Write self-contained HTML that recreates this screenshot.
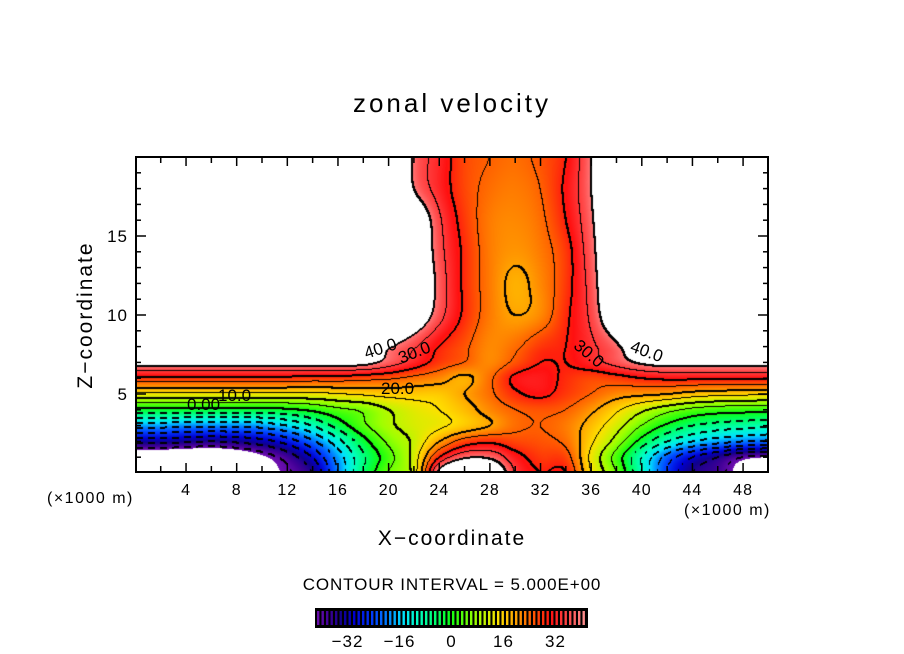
<!DOCTYPE html>
<html><head><meta charset="utf-8"><style>
body{margin:0;background:#fff;}
#root{position:relative;width:904px;height:654px;overflow:hidden;background:#fff;font-family:"Liberation Sans",sans-serif;color:#000;}
.t{position:absolute;white-space:nowrap;}
</style></head><body>
<div id="root">
<div class="t" style="left:0;width:904px;text-align:center;top:88px;font-size:26px;letter-spacing:3px;">zonal velocity</div>
<canvas id="cv" width="632" height="316" style="position:absolute;left:136px;top:157px;"></canvas>
<svg id="ax" width="904" height="654" style="position:absolute;left:0;top:0;"></svg>
<div class="t" style="left:86px;top:315px;font-size:21px;transform:translate(-50%,-50%) rotate(-90deg);letter-spacing:2px;">Z−coordinate</div>
<div class="t" style="left:0;width:904px;text-align:center;top:527px;font-size:21px;letter-spacing:2px;">X−coordinate</div>
<div class="t" style="left:47px;top:490px;font-size:16px;letter-spacing:1.5px;">(×1000 m)</div>
<div class="t" style="left:684px;top:502px;font-size:16px;letter-spacing:1.5px;">(×1000 m)</div>
<div class="t" style="left:0;width:904px;text-align:center;top:575px;font-size:17px;letter-spacing:0.9px;">CONTOUR INTERVAL = 5.000E+00</div>
<div class="t" style="left:364px;top:339px;font-size:17px;transform:rotate(-18deg);">40.0</div>
<div class="t" style="left:398px;top:343px;font-size:17px;transform:rotate(-22deg);">30.0</div>
<div class="t" style="left:381px;top:379px;font-size:17px;">20.0</div>
<div class="t" style="left:218px;top:386px;font-size:17px;">10.0</div>
<div class="t" style="left:187px;top:395px;font-size:17px;">0.00</div>
<div class="t" style="left:572px;top:344px;font-size:17px;transform:rotate(40deg);">30.0</div>
<div class="t" style="left:630px;top:342px;font-size:17px;transform:rotate(20deg);">40.0</div>
</div>
<script>
// grid coordinates (data units)
const xCoords = [0,2,4,6,8,10,12,14,16,18,20,22,24,26,28,30,32,34,36,38,40,42,44,46,48,50];
const zLevels = [0,1,2,3,4,5,6,7,8,10,12,14,16,18,20];
// zonal velocity rows (one per z level)
const uZ0  = [-65,-65,-65,-62,-55,-45,-41,-35,-20,-5,5,12,42,55,50,35,30,30,15,5,-10,-25,-35,-38,-46,-58];
const uZ1  = [-50,-50,-51,-51,-48,-43,-38,-30,-18,-6,3,12,30,39,39,32,28,27,14,3,-10,-22,-30,-35,-40,-42];
const uZ2  = [-33,-33,-34,-35,-34,-32,-28,-21,-12,-2,6,11,20,27,29,27,26,24,16,8,-2,-10,-15,-18,-20,-21];
const uZ3  = [-18,-18,-19,-19,-19,-18,-15,-10,-3,4,9,12,14,17,20,24,25,23,18,12,5,-1,-5,-7,-8,-9];
const uZ4  = [-1.5,-1.5,-1.5,-2,-2,-2,-1,1,4,6,10,13,15,18,22,25,26,25,21,16,11,7,4,2.5,2,1.5];
const uZ5  = [14,14,14,14,14,14,14,14,15,16,17,17,17,20,24,29,31,28,25,22,21,20,18,17,16.5,16];
const uZ6  = [28.5,28.5,28.5,28.5,28.5,28.5,28.5,28,28,27,26,24,22,19,24,31,32,29,27,28,30,31,31,31,31,31];
const uZ7  = [43,43,43,43,43,43,43,43,43,42,38,33,28,25,22,26,30,30,33,37,41,43,43,43,43,43];
const uZ8  = [55,55,55,55,55,55,55,55,55,47,41,36,30,26,22,24,28,30,34,39,48,55,55,55,55,55];
const uZ10 = [55,55,55,55,55,55,55,55,55,55,55,47,37,29,23,20,22,29,36,48,55,55,55,55,55,55];
const uZ12 = [55,55,55,55,55,55,55,55,55,55,55,50,38,29,23,19,22,28,37,50,55,55,55,55,55,55];
const uZ14 = [55,55,55,55,55,55,55,55,55,55,55,49,37,29,23,21,23,28,38,50,55,55,55,55,55,55];
const uZ16 = [55,55,55,55,55,55,55,55,55,55,55,48,36,28,23,22,24,30,39,52,55,55,55,55,55,55];
const uZ18 = [55,55,55,55,55,55,55,55,55,55,55,40,33,27,24,23,25,31,40,55,55,55,55,55,55,55];
const uZ20 = [55,55,55,55,55,55,55,55,55,55,55,39,33,27,25,24,26,30,40,55,55,55,55,55,55,55];
const rows = [uZ0,uZ1,uZ2,uZ3,uZ4,uZ5,uZ6,uZ7,uZ8,uZ10,uZ12,uZ14,uZ16,uZ18,uZ20];
// axis tick values
const xTickLabels = [4,8,12,16,20,24,28,32,36,40,44,48];
const zTickLabels = [5,10,15];
const cbarTickLabels = [-32,-16,0,16,32];

// axis functions
const X0=135.4, XS=12.66, Y0=473, ZS=15.8;
const px = x => X0 + XS*x;
const py = z => Y0 - ZS*z;

function cr(p0,p1,p2,p3,t){return 0.5*((2*p1)+(-p0+p2)*t+(2*p0-5*p1+4*p2-p3)*t*t+(-p0+3*p1-3*p2+p3)*t*t*t);}
function rowIndex(z){
  if(z<=zLevels[0])return 0;
  for(let k=0;k<zLevels.length-1;k++){if(z<=zLevels[k+1])return k+(z-zLevels[k])/(zLevels[k+1]-zLevels[k]);}
  return zLevels.length-1;
}
function colIndex(x){
  const n=xCoords.length;
  if(x<=xCoords[0])return 0;
  for(let k=0;k<n-1;k++){if(x<=xCoords[k+1])return k+(x-xCoords[k])/(xCoords[k+1]-xCoords[k]);}
  return n-1;
}
function g(r,c){r=Math.max(0,Math.min(rows.length-1,r));c=Math.max(0,Math.min(xCoords.length-1,c));return rows[r][c];}
function val(x,z){
  const fc=colIndex(x), fr=rowIndex(z);
  const c=Math.min(Math.floor(fc),xCoords.length-2), r=Math.min(Math.floor(fr),rows.length-2);
  const tc=fc-c, tr=fr-r;
  const a=[];
  for(let k=-1;k<=2;k++){a.push(cr(g(r+k,c-1),g(r+k,c),g(r+k,c+1),g(r+k,c+2),tc));}
  return cr(a[0],a[1],a[2],a[3],tr);
}
const stops=[[-42,[112,16,176]],[-38,[64,0,150]],[-34,[16,0,140]],[-30,[0,0,210]],[-24,[0,64,255]],[-19,[0,140,255]],[-15,[0,224,255]],[-10,[0,255,192]],[-4,[0,255,96]],[0,[16,255,16]],[8,[160,255,0]],[15,[255,224,0]],[19,[255,176,0]],[25,[255,96,0]],[31,[255,16,16]],[37,[255,80,80]],[42,[255,150,150]]];
function color(v){
  if(v<=stops[0][0])return stops[0][1];
  for(let k=0;k<stops.length-1;k++){
    if(v<=stops[k+1][0]){const t=(v-stops[k][0])/(stops[k+1][0]-stops[k][0]);const a=stops[k][1],b=stops[k+1][1];return [a[0]+(b[0]-a[0])*t,a[1]+(b[1]-a[1])*t,a[2]+(b[2]-a[2])*t];}
  }
  return stops[stops.length-1][1];
}
// render field
const cv=document.getElementById('cv');
const ctx=cv.getContext('2d');
const W=cv.width,H=cv.height;
const V=new Float32Array(W*H);
for(let j=0;j<H;j++)for(let i=0;i<W;i++){
  const x=(136+i+0.5-X0)/XS, z=(Y0-(157+j+0.5))/ZS;
  V[j*W+i]=val(x,z);
}
const img=ctx.createImageData(W,H);
const d=img.data;
for(let p=0;p<W*H;p++){
  const v=V[p];let c;
  if(v>40||v<-42)c=[255,255,255];else c=color(v);
  d[p*4]=c[0];d[p*4+1]=c[1];d[p*4+2]=c[2];d[p*4+3]=255;
}
function setBlack(i,j){if(i<0||j<0||i>=W||j>=H)return;const p=(j*W+i)*4;d[p]=0;d[p+1]=0;d[p+2]=0;}
for(let j=0;j<H-1;j++)for(let i=0;i<W-1;i++){
  const v=V[j*W+i],vr=V[j*W+i+1],vb=V[(j+1)*W+i];
  const k=Math.floor(v/5),kr=Math.floor(vr/5),kb=Math.floor(vb/5);
  let L=null;
  if(k!==kr)L=5*Math.max(k,kr);
  if(k!==kb){L=5*Math.max(k,kb);}
  if(L===null||L>40||L<-40)continue;
  if(L<0){
    const gx=Math.abs(vr-v),gy=Math.abs(vb-v);
    const s=gy>=gx?i:j;
    if((s%12)<7){setBlack(i,j);setBlack(i,j+1);}
  }else if(L%10===0){setBlack(i,j);setBlack(i+1,j);setBlack(i,j+1);}
  else setBlack(i,j);
}
ctx.putImageData(img,0,0);

// axes
const NS='http://www.w3.org/2000/svg';
const svg=document.getElementById('ax');
function mk(tag,attrs){const e=document.createElementNS(NS,tag);for(const k in attrs)e.setAttribute(k,attrs[k]);svg.appendChild(e);return e;}
const frame=mk('rect',{x:136,y:157,width:632,height:315,fill:'none',stroke:'#000','stroke-width':2});


for(let x=2;x<50;x+=2){
  const L=(x%4===0)?9:6;
  const t1=mk('line',{x1:px(x),x2:px(x),y1:472,y2:472-L,stroke:'#000','stroke-width':1.5});
  
  
  const t2=mk('line',{x1:px(x),x2:px(x),y1:157,y2:157+L,stroke:'#000','stroke-width':1.5});
  
  
}
for(let z=1;z<20;z++){
  const L=(z%5===0)?10:5;
  const t1=mk('line',{x1:136,x2:136+L,y1:py(z),y2:py(z),stroke:'#000','stroke-width':1.5});
  
  
  const t2=mk('line',{x1:768,x2:768-L,y1:py(z),y2:py(z),stroke:'#000','stroke-width':1.5});
  
  
}
xTickLabels.forEach(v=>{
  const t=mk('text',{x:px(v),y:495,'text-anchor':'middle','font-size':16,'letter-spacing':1,'font-family':'Liberation Sans, sans-serif'});
  t.textContent=String(v);
  
  
});
zTickLabels.forEach(v=>{
  const t=mk('text',{x:128,y:py(v)+6,'text-anchor':'end','font-size':17,'letter-spacing':1,'font-family':'Liberation Sans, sans-serif'});
  t.textContent=String(v);
  
  
});
// colorbar
const CB0=315,CB1=588,CBV0=-42,CBV1=42;
const cbx=v=>CB0+(v-CBV0)/(CBV1-CBV0)*(CB1-CB0);
const cbBg=mk('rect',{x:CB0,y:608,width:CB1-CB0,height:20,fill:'#000'});


const NST=60;
for(let k=0;k<NST;k++){
  const v=CBV0+(k+0.5)*(CBV1-CBV0)/NST;
  const c=color(v);
  const x=CB0+2+k*(CB1-CB0-3)/NST;
  const s=mk('rect',{x:x,y:611,width:2.4,height:14,fill:'rgb('+c.map(Math.round).join(',')+')'});
  
  
}
cbarTickLabels.forEach(v=>{
  const t=mk('text',{x:cbx(v),y:647,'text-anchor':'middle','font-size':17,'letter-spacing':1,'font-family':'Liberation Sans, sans-serif'});
  t.textContent=(v<0?'−'+(-v):String(v));
  
  
});
</script>
</body></html>
